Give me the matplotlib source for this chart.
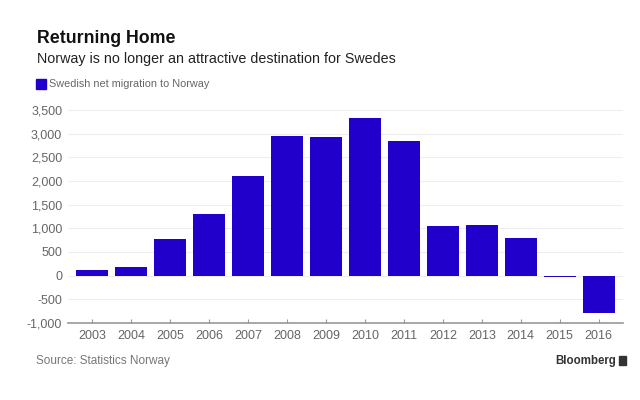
#!/usr/bin/env python3
import matplotlib
matplotlib.use("Agg")
import matplotlib.pyplot as plt
from matplotlib.patches import Rectangle

# Swedish net migration to Norway (persons)
years  = ["2003", "2004", "2005", "2006", "2007", "2008", "2009",
          "2010", "2011", "2012", "2013", "2014", "2015", "2016"]
values = [120, 190, 775, 1300, 2105, 2955, 2935,
          3340, 2840, 1050, 1065, 790, -30, -790]
yticks = [-1000, -500, 0, 500, 1000, 1500, 2000, 2500, 3000, 3500]

BAR   = "#2200cc"
GREY  = "#666666"

plt.rcParams["font.family"] = ["Liberation Sans", "DejaVu Sans"]

fig = plt.figure(figsize=(6.4, 4.0), dpi=100)
ax = fig.add_axes([0.106, 0.1925, 0.867, 0.5325])

x = range(len(years))
ax.bar(x, values, width=0.82, color=BAR, zorder=3)

ax.set_xlim(-0.63, len(years) - 1 + 0.62)
ax.set_ylim(-1000, 3500)
ax.set_yticks(yticks)
ax.set_yticklabels([f"{v:,}" for v in yticks])
ax.set_xticks(list(x))
ax.set_xticklabels(years)

ax.grid(axis="y", color="#eeeeee", linewidth=0.8, zorder=0)
for s in ["top", "right", "left"]:
    ax.spines[s].set_visible(False)
ax.spines["bottom"].set_color("#999999")
ax.spines["bottom"].set_linewidth(1.2)
ax.tick_params(axis="y", length=0, labelsize=9, labelcolor=GREY, pad=4)
ax.tick_params(axis="x", direction="in", length=3, color="#999999",
               labelsize=9, labelcolor=GREY, pad=5)

# titles
fig.text(0.058, 0.903, "Returning Home", fontsize=12.8, fontweight="bold",
         color="#111111", va="center")
fig.text(0.058, 0.852, "Norway is no longer an attractive destination for Swedes",
         fontsize=10.3, color="#222222", va="center")
fig.patches.append(Rectangle((0.057, 0.778), 0.0156, 0.025, color=BAR,
                             transform=fig.transFigure, figure=fig))
fig.text(0.077, 0.79, "Swedish net migration to Norway", fontsize=7.8,
         color=GREY, va="center")

fig.text(0.057, 0.098, "Source: Statistics Norway", fontsize=8.5,
         color="#777777", va="center")
fig.text(0.962, 0.098, "Bloomberg", fontsize=8.3, fontweight="bold",
         color="#333333", va="center", ha="right")
fig.patches.append(Rectangle((0.967, 0.087), 0.011, 0.022, color="#333333",
                             transform=fig.transFigure, figure=fig))

fig.savefig("out.png", dpi=100)
